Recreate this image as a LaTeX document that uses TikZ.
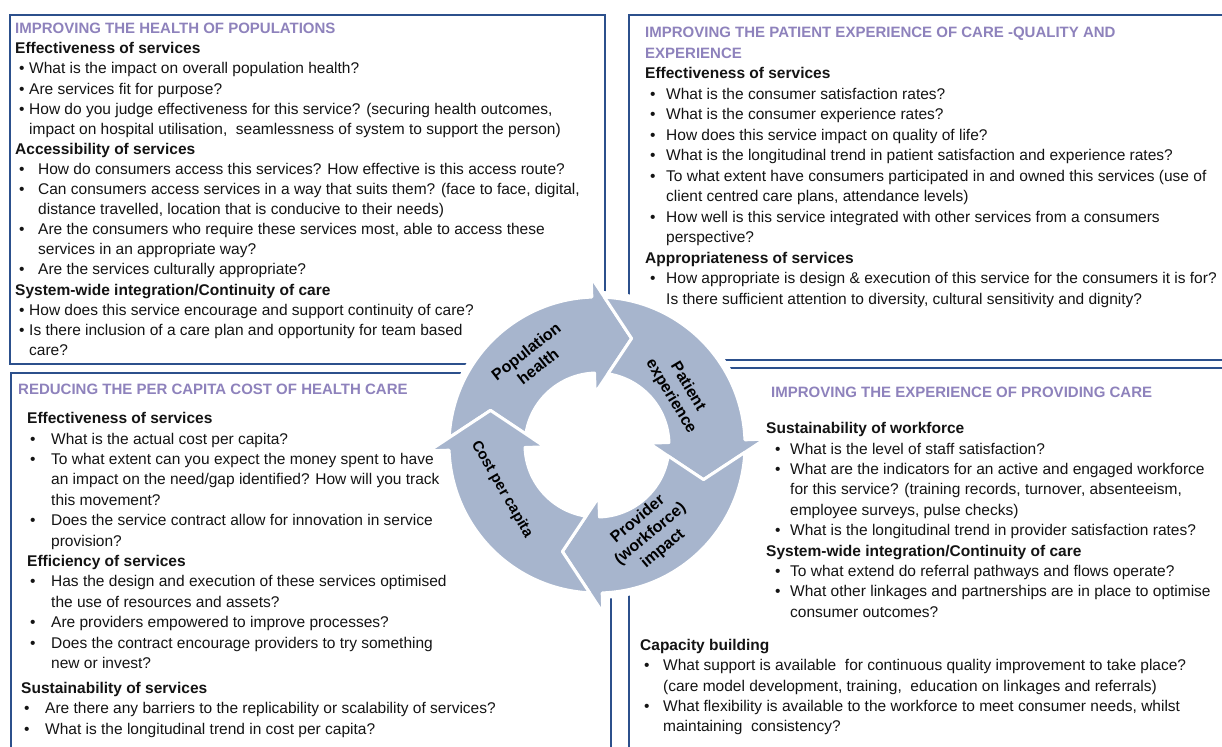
\documentclass[tikz,border=0pt]{standalone}
\usepackage{fontspec}
\setmainfont{Liberation Sans}
\definecolor{boxblue}{RGB}{44,80,140}
\definecolor{titlepurple}{RGB}{142,130,188}
\definecolor{ringfill}{RGB}{167,181,205}
\definecolor{bodytext}{RGB}{20,20,20}
\newcommand{\bi}[3]{\hspace*{#1bp}\makebox[#2bp][l]{\textbullet}#3}
\newcommand{\ct}[2]{\hspace*{#1bp}#2}
\newcommand{\hd}[2]{\hspace*{#1bp}\textbf{#2}}
\newcommand{\ttl}[2]{\hspace*{#1bp}{\fontsize{15bp}{18bp}\selectfont\bfseries\color{titlepurple}#2}}
\newcommand{\fr}{\rule{0pt}{12bp}}
\newcommand{\cyclearrow}[1]{%
  \path[ringarrow] ({#1+85.14}:148) arc[start angle={#1+85.14}, end angle={#1}, radius=148]
    -- ({#1}:168) -- ({#1-20}:112) -- ({#1}:52) -- ({#1}:72)
    arc[start angle={#1}, end angle={#1+79.21}, radius=72] -- ({#1+70}:112) -- cycle;}
\tikzset{
  qbox/.style={draw=boxblue, line width=2.2bp, fill=white, anchor=north west, inner sep=0pt},
  qtext/.style={anchor=north west, inner sep=0pt, align=left, text=bodytext},
  ringarrow/.style={fill=ringfill, draw=white, line width=3bp, line join=round},
  ringlabel/.style={font=\fontsize{16bp}{19.5bp}\selectfont\bfseries, align=center, inner sep=0pt, text=black}
}
\begin{document}
\begin{tikzpicture}[x=1bp, y=-1bp]
\useasboundingbox (0,0) rectangle (1222,747);
\fill[white] (0,0) rectangle (1222,747);
% boxes
\node[qbox, minimum width=595bp, minimum height=349bp] (tlbox) at (9,14) {};
\node[qbox, minimum width=610bp, minimum height=345bp] (trbox) at (628,14) {};
\node[qbox, minimum width=600bp, minimum height=390bp] (blbox) at (10,372) {};
\node[qbox, minimum width=610bp, minimum height=390bp] (brbox) at (628,367) {};
% texts
\node[qtext, font=\fontsize{15.5bp}{20.1bp}\selectfont] (tltext) at (15,21.5) {%
\fr\ttl{0}{IMPROVING THE HEALTH OF POPULATIONS}\\
\hd{0}{Effectiveness of services}\\
\bi{4}{10}{What is the impact on overall population health?}\\
\bi{4}{10}{Are services fit for purpose?}\\
\bi{4}{10}{How do you judge effectiveness for this service? (securing health outcomes,}\\
\ct{14}{impact on hospital utilisation,\ \ seamlessness of system to support the person)}\\
\hd{0}{Accessibility of services}\\
\bi{4}{19}{How do consumers access this services? How effective is this access route?}\\
\bi{4}{19}{Can consumers access services in a way that suits them? (face to face, digital,}\\
\ct{23}{distance travelled, location that is conducive to their needs)}\\
\bi{4}{19}{Are the consumers who require these services most, able to access these}\\
\ct{23}{services in an appropriate way?}\\
\bi{4}{19}{Are the services culturally appropriate?}\\
\hd{0}{System-wide integration/Continuity of care}\\
\bi{4}{10}{How does this service encourage and support continuity of care?}\\
\bi{4}{10}{Is there inclusion of a care plan and opportunity for team based}\\
\ct{14}{care?}};
\node[qtext, font=\fontsize{15.5bp}{20.5bp}\selectfont] (trtext) at (645,25.5) {%
\fr\ttl{0}{IMPROVING THE PATIENT EXPERIENCE OF CARE -QUALITY AND}\\
\ttl{0}{EXPERIENCE}\\
\hd{0}{Effectiveness of services}\\
\bi{5}{16}{What is the consumer satisfaction rates?}\\
\bi{5}{16}{What is the consumer experience rates?}\\
\bi{5}{16}{How does this service impact on quality of life?}\\
\bi{5}{16}{What is the longitudinal trend in patient satisfaction and experience rates?}\\
\bi{5}{16}{To what extent have consumers participated in and owned this services (use of}\\
\ct{21}{client centred care plans, attendance levels)}\\
\bi{5}{16}{How well is this service integrated with other services from a consumers}\\
\ct{21}{perspective?}\\
\hd{0}{Appropriateness of services}\\
\bi{5}{16}{How appropriate is design \& execution of this service for the consumers it is for?}\\
\ct{21}{Is there sufficient attention to diversity, cultural sensitivity and dignity?}};
\node[qtext, font=\fontsize{15.5bp}{20.4bp}\selectfont] (bltext) at (18,382.5) {%
\fr\ttl{0}{REDUCING THE PER CAPITA COST OF HEALTH CARE}\\[8.6bp]
\hd{9}{Effectiveness of services}\\
\bi{12}{21}{What is the actual cost per capita?}\\
\bi{12}{21}{To what extent can you expect the money spent to have}\\
\ct{33}{an impact on the need/gap identified? How will you track}\\
\ct{33}{this movement?}\\
\bi{12}{21}{Does the service contract allow for innovation in service}\\
\ct{33}{provision?}\\
\hd{9}{Efficiency of services}\\
\bi{12}{21}{Has the design and execution of these services optimised}\\
\ct{33}{the use of resources and assets?}\\
\bi{12}{21}{Are providers empowered to improve processes?}\\
\bi{12}{21}{Does the contract encourage providers to try something}\\
\ct{33}{new or invest?}\\[4.6bp]
\hd{3}{Sustainability of services}\\
\bi{6}{21}{Are there any barriers to the replicability or scalability of services?}\\
\bi{6}{21}{What is the longitudinal trend in cost per capita?}};
\node[qtext, font=\fontsize{15.5bp}{20.4bp}\selectfont] (brtext) at (640,385.5) {%
\fr\ttl{131}{IMPROVING THE EXPERIENCE OF PROVIDING CARE}\\[15.6bp]
\hd{126}{Sustainability of workforce}\\
\bi{135}{15}{What is the level of staff satisfaction?}\\
\bi{135}{15}{What are the indicators for an active and engaged workforce}\\
\ct{150}{for this service? (training records, turnover, absenteeism,}\\
\ct{150}{employee surveys, pulse checks)}\\
\bi{135}{15}{What is the longitudinal trend in provider satisfaction rates?}\\
\hd{126}{System-wide integration/Continuity of care}\\
\bi{135}{15}{To what extend do referral pathways and flows operate?}\\
\bi{135}{15}{What other linkages and partnerships are in place to optimise}\\
\ct{150}{consumer outcomes?}\\[12.6bp]
\hd{0}{Capacity building}\\
\bi{4}{19}{What support is available\ \ for continuous quality improvement to take place?}\\
\ct{23}{(care model development, training,\ \ education on linkages and referrals)}\\
\bi{4}{19}{What flexibility is available to the workforce to meet consumer needs, whilst}\\
\ct{23}{maintaining\ \ consistency?}};
% cycle
\begin{scope}[shift={(597,445)}, y=1bp]
\fill[white] (0,0) circle[radius=154];
\cyclearrow{92}
\cyclearrow{2}
\cyclearrow{-88}
\cyclearrow{-178}
\node[ringlabel, rotate=38] (lpop) at (127:108) {Population\\health};
\node[ringlabel, rotate=-59] (lpat) at (33:98) {Patient\\experience};
\node[ringlabel, rotate=40] (lprov) at (-59:104) {Provider\\(workforce)\\impact};
\node[ringlabel, font=\fontsize{15bp}{18bp}\selectfont\bfseries, rotate=-60] (lcost) at (205:105) {Cost per capita};
\end{scope}
\end{tikzpicture}
\end{document}
